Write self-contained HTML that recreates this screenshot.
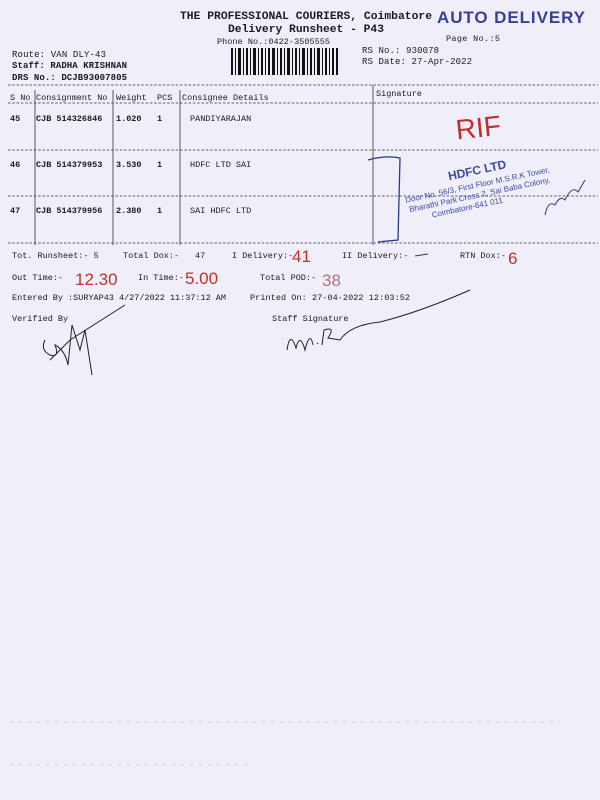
<!DOCTYPE html>
<html><head><meta charset="utf-8"><style>
html,body{margin:0;padding:0;background:#efeef9;}
svg{display:block}
text{font-family:"Liberation Mono",monospace;fill:#1a1a22;}
text.s{font-family:"Liberation Sans",sans-serif;}
.b{font-weight:bold}
</style></head><body>
<svg width="600" height="800" viewBox="0 0 600 800" xmlns="http://www.w3.org/2000/svg">
<rect width="600" height="800" fill="#efeef9"/>
<text x="180" y="19" font-size="11.3" class="b" textLength="252">THE PROFESSIONAL COURIERS, Coimbatore</text>
<text x="228" y="32" font-size="11.3" class="b" textLength="156">Delivery Runsheet - P43</text>
<text x="217" y="44" font-size="8.5" textLength="113">Phone No.:0422-3505555</text>
<text x="437" y="23" font-size="17" font-weight="bold" class="s" style="fill:#3b3d9c" textLength="148">AUTO DELIVERY</text>
<text x="446" y="41" font-size="8.5" textLength="54">Page No.:5</text>
<g fill="#111">
<rect x="231" y="48" width="2" height="27"/><rect x="235" y="48" width="1" height="27"/><rect x="238" y="48" width="3" height="27"/><rect x="243" y="48" width="1" height="27"/><rect x="246" y="48" width="2" height="27"/><rect x="250" y="48" width="1" height="27"/><rect x="253" y="48" width="3" height="27"/><rect x="258" y="48" width="1" height="27"/><rect x="261" y="48" width="2" height="27"/><rect x="265" y="48" width="1" height="27"/><rect x="268" y="48" width="2" height="27"/><rect x="272" y="48" width="3" height="27"/><rect x="277" y="48" width="1" height="27"/><rect x="280" y="48" width="2" height="27"/><rect x="284" y="48" width="1" height="27"/><rect x="287" y="48" width="3" height="27"/><rect x="292" y="48" width="1" height="27"/><rect x="295" y="48" width="2" height="27"/><rect x="299" y="48" width="1" height="27"/><rect x="302" y="48" width="3" height="27"/><rect x="307" y="48" width="1" height="27"/><rect x="310" y="48" width="2" height="27"/><rect x="314" y="48" width="1" height="27"/><rect x="317" y="48" width="3" height="27"/><rect x="322" y="48" width="1" height="27"/><rect x="325" y="48" width="2" height="27"/><rect x="329" y="48" width="1" height="27"/><rect x="332" y="48" width="2" height="27"/><rect x="336" y="48" width="2" height="27"/>
</g>
<text x="12" y="57" font-size="9" textLength="94">Route: VAN DLY-43</text>
<text x="12" y="68" font-size="9" class="b" textLength="115">Staff: RADHA KRISHNAN</text>
<text x="12" y="80" font-size="9" class="b" textLength="115">DRS No.: DCJB93007805</text>
<text x="362" y="53" font-size="9" textLength="77">RS No.: 930078</text>
<text x="362" y="64" font-size="9" textLength="110">RS Date: 27-Apr-2022</text>
<g stroke="#333" stroke-width="0.8" stroke-dasharray="2.5,1.8" fill="none">
<line x1="8" y1="85" x2="598" y2="85"/>
<line x1="8" y1="103" x2="598" y2="103"/>
<line x1="8" y1="150" x2="598" y2="150"/>
<line x1="8" y1="196" x2="598" y2="196"/>
<line x1="8" y1="243" x2="598" y2="243"/>
</g>
<g stroke="#333" stroke-width="0.8">
<line x1="35" y1="90" x2="35" y2="245"/>
<line x1="113" y1="90" x2="113" y2="245"/>
<line x1="180" y1="90" x2="180" y2="245"/>
<line x1="373" y1="85" x2="373" y2="245"/>
</g>
<g font-size="8.5">
<text x="10" y="100">S No</text><text x="36" y="100">Consignment No</text><text x="116" y="100">Weight</text><text x="157" y="100">PCS</text><text x="182" y="100">Consignee Details</text><text x="376" y="96">Signature</text>
</g>
<g font-size="8.5" class="b">
<text x="10" y="121">45</text><text x="36" y="121">CJB 514326846</text><text x="116" y="121">1.020</text><text x="157" y="121">1</text><text x="190" y="121" font-weight="normal">PANDIYARAJAN</text>
<text x="10" y="167">46</text><text x="36" y="167">CJB 514379953</text><text x="116" y="167">3.530</text><text x="157" y="167">1</text><text x="190" y="167" font-weight="normal">HDFC LTD SAI</text>
<text x="10" y="213">47</text><text x="36" y="213">CJB 514379956</text><text x="116" y="213">2.380</text><text x="157" y="213">1</text><text x="190" y="213" font-weight="normal">SAI HDFC LTD</text>
</g>
<text x="456" y="137" font-size="28" class="s" style="fill:#c0302a" transform="rotate(-6 480 130)">RIF</text>
<path d="M368 160 Q385 155 400 158 L398 240 L378 242" stroke="#2a3a8a" stroke-width="1.3" fill="none"/>
<g transform="rotate(-12 490 190)">
<text x="452" y="172" font-size="12" font-weight="bold" class="s" style="fill:#3b4aa0">HDFC LTD</text>
<text x="405" y="185" font-size="8" class="s" style="fill:#3b4aa0">Door No. 56/3, First Floor M.S.R.K Tower,</text>
<text x="407" y="195" font-size="8" class="s" style="fill:#3b4aa0">Bharathi Park Cross 2, Sai Baba Colony,</text>
<text x="428" y="205" font-size="8" class="s" style="fill:#3b4aa0">Coimbatore-641 011</text>
</g>
<path d="M545 215 Q548 200 555 205 Q560 195 565 200 Q572 185 578 192 L585 180" stroke="#2a3a8a" stroke-width="1" fill="none"/>
<g font-size="8.5">
<text x="12" y="258">Tot. Runsheet:- 5</text>
<text x="123" y="258">Total Dox:-</text>
<text x="195" y="258">47</text>
<text x="232" y="258">I Delivery:-</text>
<text x="342" y="258">II Delivery:-</text>
<text x="460" y="258">RTN Dox:-</text>
<text x="12" y="280">Out Time:-</text>
<text x="138" y="280">In Time:-</text>
<text x="260" y="280">Total POD:-</text>
<text x="12" y="300" textLength="214">Entered By :SURYAP43 4/27/2022 11:37:12 AM</text>
<text x="250" y="300" textLength="160">Printed On: 27-04-2022 12:03:52</text>
<text x="12" y="321">Verified By</text>
<text x="272" y="321">Staff Signature</text>
</g>
<g font-size="17">
<text x="292" y="262" class="s" style="fill:#c0302a">41</text>
<text x="508" y="264" class="s" style="fill:#c0302a">6</text>
<text x="75" y="285" class="s" style="fill:#c0302a">12.30</text>
<text x="185" y="284" class="s" style="fill:#c0302a">5.00</text>
<text x="322" y="286" class="s" style="fill:#b87080">38</text>
</g>
<path d="M415 256 L428 254" stroke="#333" stroke-width="1"/>
<path d="M45 340 Q40 350 50 355 Q60 358 55 345 Q65 350 68 365 L72 325 L80 350 L85 330 L92 375 M50 360 L70 340 L125 305" stroke="#222" stroke-width="1" fill="none"/>
<path d="M287 350 Q290 330 296 348 Q300 332 305 350 Q310 330 313 345 M317 343 l1 1 M322 345 L324 330 Q336 326 328 338 L340 340 Q350 325 380 322 Q420 312 470 290" stroke="#222" stroke-width="1" fill="none"/>
<g stroke="#c9c8d8" stroke-width="1" stroke-dasharray="3,6">
<line x1="10" y1="722" x2="560" y2="722"/>
<line x1="10" y1="765" x2="250" y2="765"/>
</g>
</svg>
</body></html>
